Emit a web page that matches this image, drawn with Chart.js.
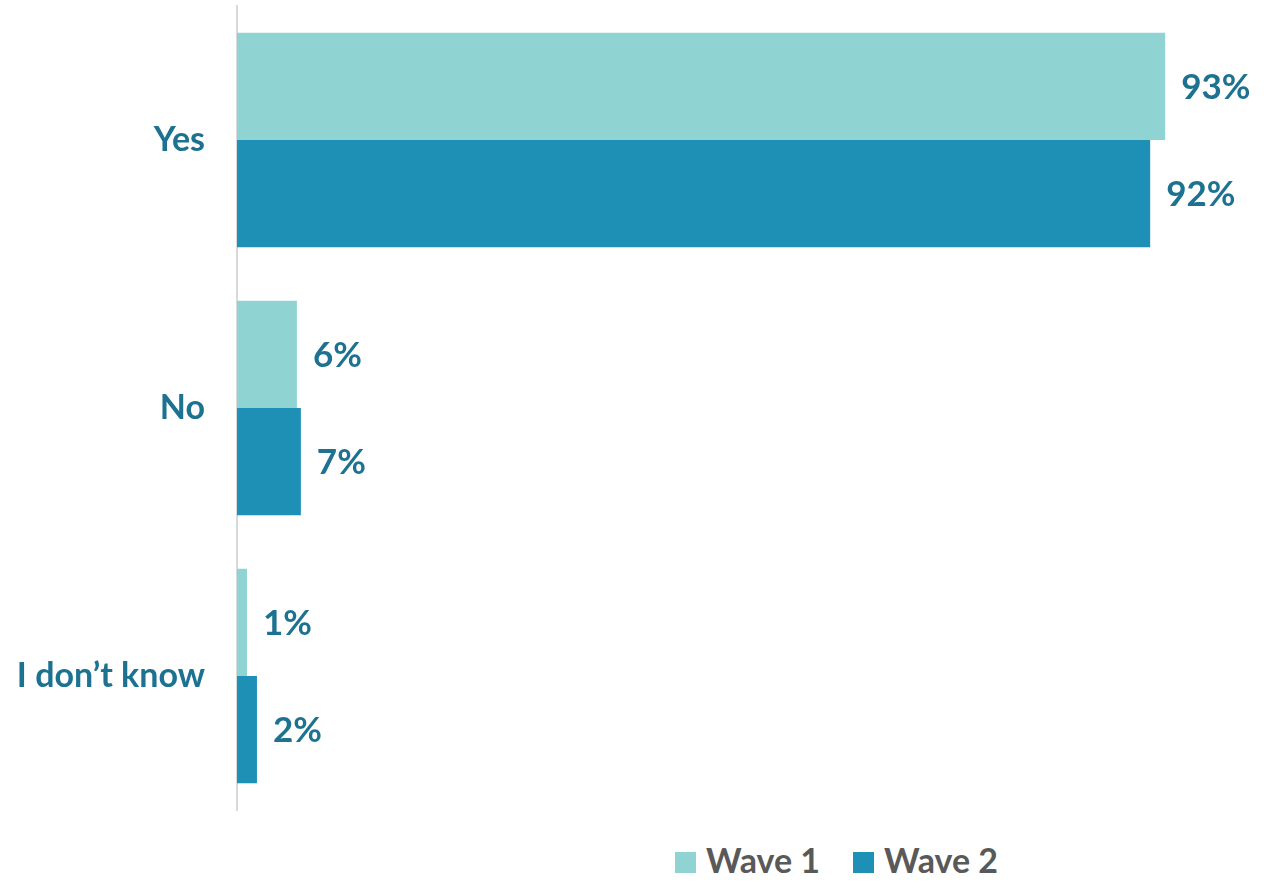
<!DOCTYPE html>
<html>
<head>
<meta charset="utf-8">
<script src="https://cdn.jsdelivr.net/npm/chart.js@4/dist/chart.umd.min.js"></script>
<style>
  body { margin: 0; background: #fff; }
  #wrap { position: relative; width: 1268px; height: 886px; }
  #box { position: absolute; left: 0; top: 0; width: 1268px; height: 820px; }
  #legend { position: absolute; top: 839px; left: 675px; font: bold 34px Lato, sans-serif; color: #595959; white-space: nowrap; }
  #legend span.sw { display: inline-block; width: 21px; height: 21px; margin-right: 10px; vertical-align: 0px; }
  #legend span.item { margin-right: 33px; }
</style>
</head>
<body>
<div id="wrap">
  <div id="box"><canvas id="chart"></canvas></div>
  <div id="legend"></div>
</div>
<script>
const categories = ["Yes", "No", "I don\u2019t know"];
const wave1 = [93, 6, 1];
const wave2 = [91.5, 6.4, 2];
const wave1Labels = ["93%", "6%", "1%"];
const wave2Labels = ["92%", "7%", "2%"];
const seriesNames = ["Wave 1", "Wave 2"];
const colors = ["#8fd3d3", "#1f90b5"];
const textColor = "#1c7290";

// value labels at the end of each bar
const barLabels = {
  id: "barLabels",
  afterDatasetsDraw(chart) {
    const ctx = chart.ctx;
    const texts = [wave1Labels, wave2Labels];
    ctx.save();
    ctx.font = "bold 35px Lato, sans-serif";
    ctx.fillStyle = textColor;
    ctx.textAlign = "left";
    ctx.textBaseline = "middle";
    chart.data.datasets.forEach((ds, i) => {
      chart.getDatasetMeta(i).data.forEach((bar, j) => {
        ctx.fillText(texts[i][j], bar.x + 16, bar.y + 1);
      });
    });
    ctx.restore();
  }
};

new Chart(document.getElementById("chart"), {
  type: "bar",
  data: {
    labels: categories,
    datasets: [
      { label: seriesNames[0], data: wave1, backgroundColor: colors[0] },
      { label: seriesNames[1], data: wave2, backgroundColor: colors[1] }
    ]
  },
  options: {
    indexAxis: "y",
    maintainAspectRatio: false,
    animation: false,
    categoryPercentage: 0.8,
    barPercentage: 1.0,
    layout: { padding: { top: 6, bottom: 10, right: 33, left: 0 } },
    plugins: { legend: { display: false }, tooltip: { enabled: false } },
    scales: {
      x: { min: 0, max: 100, display: false },
      y: {
        grid: { display: false },
        border: { display: true, color: "#d9d9d9", width: 2 },
        ticks: { color: textColor, padding: 24, font: { family: "Lato, sans-serif", size: 34, weight: "bold" } },
        afterFit(scale) {
          scale.width = 237;
          scale.paddingTop = 0;
          scale.paddingBottom = 0;
        }
      }
    }
  },
  plugins: [barLabels]
});

const legend = document.getElementById("legend");
seriesNames.forEach((name, i) => {
  const item = document.createElement("span");
  item.className = "item";
  item.innerHTML = '<span class="sw" style="background:' + colors[i] + '"></span>' + name;
  legend.appendChild(item);
});
</script>
</body>
</html>
